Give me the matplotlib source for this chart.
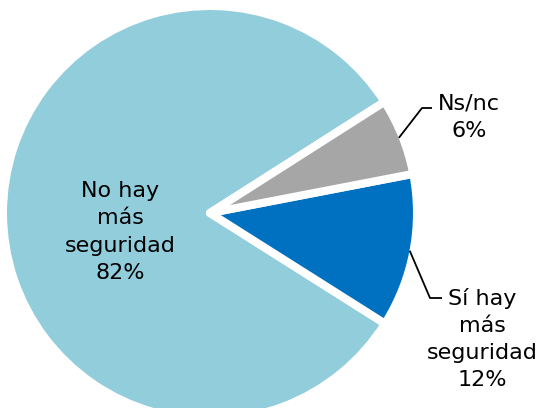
import numpy as np
import matplotlib
matplotlib.use('Agg')
import matplotlib.pyplot as plt

# data
labels  = ['No hay\nmás\nseguridad', 'Sí hay\nmás\nseguridad', 'Ns/nc']
values  = [82, 12, 6]
colors  = ['#92CDDC', '#0070C0', '#A6A6A6']

plt.rcParams['font.family'] = ['DejaVu Sans']

W, H = 543, 408
cx, cy, R = 210, 213, 207          # pie centre and radius in pixels

fig = plt.figure(figsize=(W / 100, H / 100), dpi=100)
ax = fig.add_axes([0, 0, 1, 1])

wedges, _ = ax.pie(values, colors=colors, startangle=32.5, counterclock=True,
                   radius=1.0,
                   wedgeprops=dict(edgecolor='white', linewidth=5.8,
                                   joinstyle='round'))

ax.set_aspect('auto')
ax.set_xlim(-cx / R, (W - cx) / R)
ax.set_ylim(-(H - cy) / R, cy / R)
ax.axis('off')


def px(x, y):
    # pixel position -> data coordinates
    return (x - cx) / R, (cy - y) / R


def label_text(i):
    return f'{labels[i]}\n{values[i]}%'


fs = 16
# big slice, label inside
ax.text(*px(120, 232), label_text(0), ha='center', va='center',
        fontsize=fs, linespacing=1.45, color='black')

# outside labels with leader lines
outside = {1: dict(text=(482, 339), elbow=(430, 298), end=(442, 298)),
           2: dict(text=(469, 117), elbow=(422, 108), end=(432, 108))}
for i, o in outside.items():
    w = wedges[i]
    mid = np.deg2rad((w.theta1 + w.theta2) / 2)
    r0 = 0.982
    x0, y0 = r0 * np.cos(mid), r0 * np.sin(mid)
    ex, ey = px(*o['elbow'])
    hx, hy = px(*o['end'])
    ax.plot([x0, ex, hx], [y0, ey, hy], color='black', lw=1.3,
            solid_capstyle='butt')
    ax.text(*px(*o['text']), label_text(i), ha='center', va='center',
            fontsize=fs, linespacing=1.45, color='black')

fig.savefig('out.png', dpi=100)
